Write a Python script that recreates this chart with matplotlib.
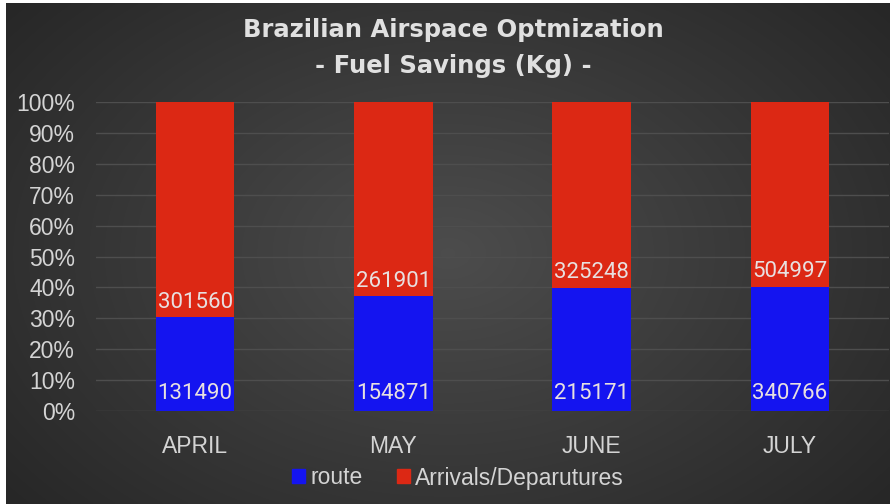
import numpy as np
import matplotlib
matplotlib.use("Agg")
import matplotlib.pyplot as plt
from matplotlib.patches import Patch

months = ["APRIL", "MAY", "JUNE", "JULY"]
route = [131490, 154871, 215171, 340766]
arrivals = [301560, 261901, 325248, 504997]
series_names = ["route", "Arrivals/Deparutures"]
yticks = [0, 10, 20, 30, 40, 50, 60, 70, 80, 90, 100]

W, H = 890, 504
fig = plt.figure(figsize=(W / 100, H / 100), dpi=100, facecolor="white")

# background panel with radial gradient
bg = fig.add_axes([6 / W, 0, 1 - 6 / W, 1 - 3 / H])
bg.set_axis_off()
yy, xx = np.mgrid[0:1:200j, 0:1:350j]
r = np.sqrt(((xx - 0.5) / 0.75) ** 2 + ((yy - 0.5) / 0.9) ** 2)
val = 0.30 - 0.17 * np.clip(r, 0, 1)
img = np.dstack([val, val, val])
bg.imshow(img, aspect="auto", extent=[0, 1, 0, 1], interpolation="bilinear")
bg.set_xlim(0, 1)
bg.set_ylim(0, 1)

route_pct = [100 * r_ / (r_ + a_) for r_, a_ in zip(route, arrivals)]
arr_pct = [100 - p for p in route_pct]

left, right = 96 / W, 889 / W
bottom, top = 1 - 411 / H, 1 - 102 / H
ax = fig.add_axes([left, bottom, right - left, top - bottom])
ax.set_facecolor("none")
x = np.arange(len(months))
blue = "#1414f0"
red = "#dc2814"
ax.bar(x, route_pct, width=0.395, color=blue, zorder=3)
ax.bar(x, arr_pct, width=0.395, bottom=route_pct, color=red, zorder=3)

ax.set_xlim(-0.5, len(months) - 0.5)
ax.set_ylim(0, 100)
ax.set_yticks(yticks)
ax.set_yticklabels([f"{t}%" for t in yticks])
ax.set_xticks(x)
ax.set_xticklabels(months)
ax.tick_params(axis="both", length=0, colors="#d4d4d4", labelsize=16.5)
ax.tick_params(axis="y", pad=15)
ax.tick_params(axis="x", pad=17)
for lab in ax.get_xticklabels() + ax.get_yticklabels():
    lab.set_fontfamily("Liberation Sans")
for s in ax.spines.values():
    s.set_visible(False)
ax.grid(axis="y", color="#4e4e4e", linewidth=1, zorder=0)

lblc = "#e8e0e0"
for i in range(len(months)):
    ax.text(x[i], 2.2, f"{route[i]}", ha="center", va="bottom", color=lblc,
            fontsize=16, fontfamily="Roboto", zorder=4)
    ax.text(x[i], route_pct[i] + 1.5, f"{arrivals[i]}", ha="center", va="bottom",
            color=lblc, fontsize=16, fontfamily="Roboto", zorder=4)

fig.text(453 / W, 1 - 30 / H, "Brazilian Airspace Optmization", ha="center", va="center",
         color="#e0e0e0", fontsize=17.5, fontweight="bold", fontfamily="DejaVu Sans")
fig.text(453 / W, 1 - 66 / H, "- Fuel Savings (Kg) -", ha="center", va="center",
         color="#e0e0e0", fontsize=17.5, fontweight="bold", fontfamily="DejaVu Sans")

handles = [Patch(color=blue), Patch(color=red)]
leg = fig.legend(handles, series_names, loc="center", bbox_to_anchor=(458 / W, 1 - 478 / H),
                 ncol=2, frameon=False, handlelength=0.55, handleheight=0.55,
                 handletextpad=0.25, columnspacing=1.5,
                 prop={"family": "Liberation Sans", "size": 16.5})
for t in leg.get_texts():
    t.set_color("#d4d4d4")

fig.savefig("out.png", dpi=100, facecolor="white")
